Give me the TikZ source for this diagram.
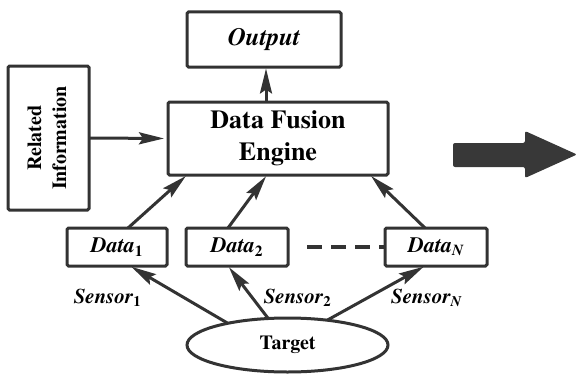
\documentclass[tikz,border=0pt]{standalone}
\usepackage{fontspec}
\IfFontExistsTF{texgyretermes-bold.otf}{%
  \setmainfont{texgyretermes}[Extension=.otf, UprightFont=*-regular, BoldFont=*-bold,
    ItalicFont=*-italic, BoldItalicFont=*-bolditalic]}{%
  \setmainfont{Liberation Serif}}
\usetikzlibrary{arrows.meta}
\usetikzlibrary{shapes.geometric}

\begin{document}
\begin{tikzpicture}[x=1pt, y=1pt,
    %Option for nice arrows
    >={Stealth[length=25pt,width=12pt,inset=4pt]}, %
    inner sep=0pt, outer sep=0pt,%
    box/.style={draw=linegray, line width=3pt, rounded corners=1.5pt, align=center},
    link/.style={draw=linegray, line width=3pt, ->, shorten >=1.5pt},
    datafont/.style={font=\fontsize{22}{24}\selectfont\bfseries\itshape},
    sensor/.style={font=\fontsize{21}{24}\selectfont\bfseries\itshape},
]
    % Colors
    \colorlet{linegray}{black!80}
    \colorlet{arrowgray}{black!78}

    \useasboundingbox (0,0) rectangle (577,373);

    % Boxes
    \node[box, minimum width=154, minimum height=55,
        font=\fontsize{25}{28}\selectfont\bfseries\itshape] (out) at (264,333.5) {Output};
    \node[box, minimum width=220, minimum height=73,
        font=\fontsize{26}{32}\selectfont\bfseries] (dfe) at (278,234.5) {Data Fusion\\Engine};
    \node[box, minimum width=81, minimum height=144,
        font=\fontsize{20}{25}\selectfont\bfseries] (rel) at (48.5,235)
        {\rotatebox{90}{\begin{tabular}{@{}c@{}}Related\\Information\end{tabular}}};

    % Data of each sensor
    \node[box, datafont, minimum width=100, minimum height=38] (d1) at (117,126)
        {Data\textsubscript{\upshape 1}};
    \node[box, datafont, minimum width=102, minimum height=38] (d2) at (237,126)
        {Data\textsubscript{\upshape 2}};
    \node[box, datafont, minimum width=102, minimum height=38] (dN) at (436,126)
        {Data\textsubscript{N}};
    \draw[linegray, line width=4pt, dash pattern=on 15pt off 9pt, shorten <=19pt] (d2.east) -- (dN.west);

    % Target
    \node[draw=linegray, ellipse, line width=3pt, minimum width=201, minimum height=54,
        font=\fontsize{20}{24}\selectfont\bfseries] (tgt) at (287.5,28) {Target};

    % Links
    \draw[link, shorten >=4pt] (rel.east) -- (dfe.west);
    \draw[link] ([xshift=2pt]dfe.north -| out.south) -- ([xshift=2pt]out.south);
    \draw[link] ([xshift=11pt]d1.north) -- ([xshift=19pt]dfe.south west);
    \draw[link] ([xshift=-9pt]d2.north) -- ([xshift=-11pt]dfe.south);
    \draw[link] ([xshift=-11pt]dN.north) -- ([xshift=-18pt]dfe.south east);
    \draw[link] (tgt.160) -- ([xshift=13pt]d1.south);
    \draw[link] (tgt.126) -- ([xshift=-9pt]d2.south);
    \draw[link] (tgt.32) -- ([xshift=-11pt]dN.south);

    % Sensor labels
    \node[sensor] (s1) at (107.5,75) {Sensor\textsubscript{\upshape 1}};
    \node[sensor] (s2) at (297.5,75) {Sensor\textsubscript{\upshape 2}};
    \node[sensor] (sN) at (426.5,75) {Sensor\textsubscript{N}};

    % Big arrow
    \fill[arrowgray, rounded corners=2pt] (453,206) -- (525,206) -- (525,195) -- (577,218.5)
        -- (525,242) -- (525,230) -- (453,230) -- cycle;
\end{tikzpicture}
\end{document}
